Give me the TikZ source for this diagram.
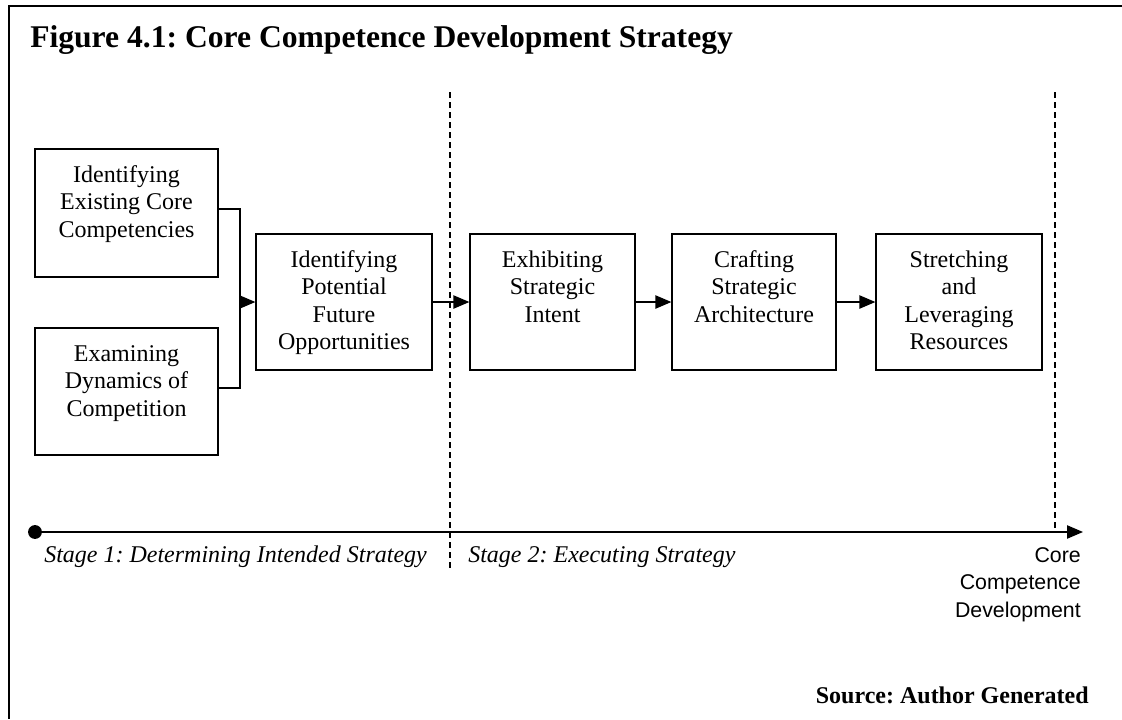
\documentclass[tikz,border=0pt]{standalone}
\usepackage{fontspec}
\setmainfont{Liberation Serif}
\setsansfont{Liberation Sans}
\usetikzlibrary{arrows.meta}
\frenchspacing
\newcommand{\bxt}[3]{\parbox[c][#1][t]{#2}{\centering\vspace*{10.3pt}\strut #3}}
\begin{document}
\begin{tikzpicture}[x=0.75pt,y=-0.75pt,
  box/.style={draw, line width=0.95pt, inner sep=0pt, font=\fontsize{18}{20.7}\selectfont},
  wire/.style={line width=0.95pt},
  link/.style={line width=0.95pt, -{Triangle[length=12pt,width=10pt]}},
  divider/.style={line width=0.9pt, dash pattern=on 4.5pt off 3pt},
  label/.style={inner sep=0pt}]
\useasboundingbox (0,0) rectangle (1122,719);
% frame
\draw[line width=1.3pt] (1122,6) -- (9,6) -- (9,719);
% title
\node[label, anchor=base west, font=\bfseries\fontsize{23.7}{28}\selectfont] (title) at (30,47) {Figure 4.1: Core Competence Development Strategy};
% boxes
\node[box] (A) at (126.5,213) {\bxt{96pt}{137.25pt}{Identifying\\Existing Core\\Competencies}};
\node[box] (B) at (126.5,391.5) {\bxt{95.25pt}{137.25pt}{Examining\\Dynamics of\\Competition}};
\node[box] (C) at (344,302) {\bxt{102pt}{132pt}{Identifying\\Potential\\Future\\Opportunities}};
\node[box] (D) at (552.5,302) {\bxt{102pt}{123.75pt}{Exhibiting\\Strategic\\Intent}};
\node[box] (E) at (754,302) {\bxt{102pt}{123pt}{Crafting\\Strategic\\Architecture}};
\node[box] (F) at (959,302) {\bxt{102pt}{124.5pt}{Stretching\\and\\Leveraging\\Resources}};
% dividers
\coordinate (d1t) at (450,92);
\coordinate (d1b) at (450,572);
\coordinate (d2t) at (1055,92);
\coordinate (d2b) at (1055,532);
\draw[divider] (d1t) -- (d1b);
\draw[divider] (d2t) -- (d2b);
% connectors
\coordinate (j) at (240,302);
\draw[wire] ([yshift=3pt]A.east) -| (j);
\draw[wire] ([yshift=2.6pt]B.east) -| (j);
\draw[link] (j) -- (C.west);
\draw[link] (C.east) -- (D.west);
\draw[link] (D.east) -- (E.west);
\draw[link] (E.east) -- (F.west);
% axis
\coordinate (ax0) at (35,532);
\coordinate (ax1) at (1083,532);
\draw[link] (ax0) -- (ax1);
\fill (ax0) circle (5.2pt);
% stage labels
\node[label, anchor=base west, font=\itshape\fontsize{18}{20.7}\selectfont] (s1) at (44,562) {Stage 1: Determining Intended Strategy};
\node[label, anchor=base west, font=\itshape\fontsize{18}{20.7}\selectfont] (s2) at (468,562) {Stage 2: Executing Strategy};
\node[label, anchor=north east, align=right, font=\sffamily\fontsize{16}{20.6}\selectfont] (core) at (1081,542.8) {\strut Core\\Competence\\Development};
% source
\node[label, anchor=base east, font=\bfseries\fontsize{18}{20.7}\selectfont] (src) at (1089,703) {Source: Author Generated};
\end{tikzpicture}
\end{document}
